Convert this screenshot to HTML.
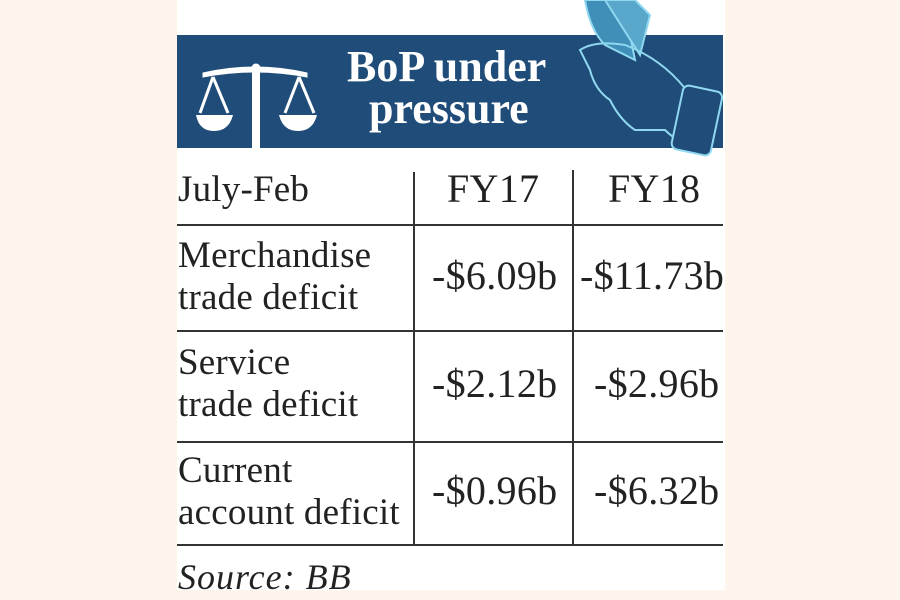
<!DOCTYPE html>
<html><head><meta charset="utf-8"><style>
body{margin:0;width:900px;height:600px;background:#fdf4ec;position:relative;overflow:hidden;font-family:"Liberation Serif",serif;color:#222}
.panel{position:absolute;left:177px;top:0;width:548px;height:590px;background:#fff}
.band{position:absolute;left:177px;top:35px;width:546px;height:113px;background:#1f4c78}
.t{position:absolute;white-space:nowrap}
.h{position:absolute;left:177px;width:546px;height:2px;background:#333}
.v{position:absolute;width:2px;background:#333}
.c{font-size:37px;line-height:42px;letter-spacing:0.2px}
.n{font-size:40px;letter-spacing:0.3px}
</style></head><body>
<div class="panel"></div>
<div class="band"></div>
<svg style="position:absolute;left:195px;top:55px" width="125" height="95">
<g fill="#fff" stroke="#fff">
<rect x="57" y="12" width="8" height="83" stroke="none"/>
<path d="M8 18 Q60 6 112 18 L112 22 Q60 12 8 22Z"/>
<circle cx="61" cy="13" r="4"/>
<path d="M18 22 L5 58 M18 22 L33 58 M104 22 L90 58 M104 22 L119 58" fill="none" stroke-width="3"/>
<path d="M1 60 H38 Q34 76 19 76 Q4 76 1 60Z" stroke="none"/>
<path d="M84 60 H122 Q118 76 103 76 Q88 76 84 60Z" stroke="none"/>
</g></svg>
<div class="t" style="left:347px;top:44px;font-size:44px;font-weight:bold;color:#fff;line-height:46px">BoP under</div>
<div class="t" style="left:369px;top:86px;font-size:44px;font-weight:bold;color:#fff;line-height:46px">pressure</div>
<svg style="position:absolute;left:565px;top:0" width="160" height="165">
<g fill="none" stroke="#8fd8f0" stroke-width="2">
<path d="M20 0 Q25 30 40 45 L70 60 L60 10 L50 0Z" fill="#3f8fb8"/>
<path d="M40 0 L75 55 L85 15 L70 0Z" fill="#5aa7cc"/>
<path d="M15 50 Q30 40 60 45 Q100 60 125 95 L140 140 Q120 150 100 130 L70 130 Q55 120 45 100 Q30 90 25 70Z"/>
<rect x="112" y="88" width="40" height="65" rx="6" transform="rotate(12 132 120)" fill="#1f4c78"/>
</g></svg>
<div class="t c" style="left:178px;top:169px">July-Feb</div>
<div class="t c n" style="left:447px;top:168px">FY17</div>
<div class="t c n" style="left:608px;top:168px">FY18</div>
<div class="h" style="top:224px"></div>
<div class="t c" style="left:178px;top:235px">Merchandise<br>trade deficit</div>
<div class="t c n" style="left:432px;top:255px">-$6.09b</div>
<div class="t c n" style="left:580px;top:255px">-$11.73b</div>
<div class="h" style="top:330px"></div>
<div class="t c" style="left:178px;top:342px">Service<br>trade deficit</div>
<div class="t c n" style="left:432px;top:363px">-$2.12b</div>
<div class="t c n" style="left:594px;top:363px">-$2.96b</div>
<div class="h" style="top:441px"></div>
<div class="t c" style="left:178px;top:450px">Current<br>account deficit</div>
<div class="t c n" style="left:432px;top:470px">-$0.96b</div>
<div class="t c n" style="left:594px;top:470px">-$6.32b</div>
<div class="h" style="top:544px"></div>
<div class="v" style="left:413px;top:172px;height:373px"></div>
<div class="v" style="left:572px;top:170px;height:375px"></div>
<div class="t" style="left:178px;top:557px;font-size:36px;font-style:italic;line-height:40px;letter-spacing:1px">Source: BB</div>
</body></html>
